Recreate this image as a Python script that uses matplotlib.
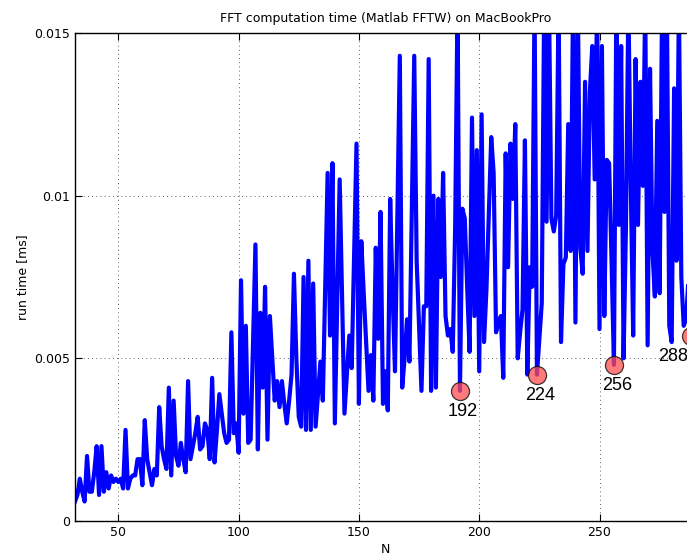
import matplotlib
matplotlib.use("Agg")
import matplotlib.pyplot as plt

# fft sizes and measured run times
n_start = 32
run_time = [
    0.0006, 0.0008, 0.0013, 0.0009, 0.0006, 0.0020, 0.0009, 0.0009, 0.0015, 0.0023,  # 32-41
    0.0008, 0.0023, 0.0009, 0.0015, 0.0010, 0.0014, 0.0012, 0.0013, 0.0012, 0.0013,  # 42-51
    0.0010, 0.0028, 0.0010, 0.0013, 0.0014, 0.0014, 0.0019, 0.0019, 0.0011, 0.0031,  # 52-61
    0.0019, 0.0015, 0.0011, 0.0016, 0.0014, 0.0035, 0.0023, 0.0019, 0.0016, 0.0041,  # 62-71
    0.0014, 0.0037, 0.0020, 0.0017, 0.0024, 0.0019, 0.0015, 0.0043, 0.0019, 0.0023,  # 72-81
    0.0027, 0.0032, 0.0022, 0.0023, 0.0030, 0.0028, 0.0019, 0.0044, 0.0018, 0.0028,  # 82-91
    0.0039, 0.0033, 0.0027, 0.0024, 0.0025, 0.0058, 0.0027, 0.0030, 0.0021, 0.0074,  # 92-101
    0.0033, 0.0060, 0.0024, 0.0025, 0.0055, 0.0085, 0.0022, 0.0064, 0.0041, 0.0072,  # 102-111
    0.0025, 0.0063, 0.0050, 0.0037, 0.0043, 0.0035, 0.0043, 0.0036, 0.0030, 0.0037,  # 112-121
    0.0045, 0.0076, 0.0050, 0.0032, 0.0029, 0.0075, 0.0028, 0.0080, 0.0028, 0.0073,  # 122-131
    0.0029, 0.0039, 0.0049, 0.0037, 0.0072, 0.0107, 0.0057, 0.0110, 0.0030, 0.0068,  # 132-141
    0.0105, 0.0069, 0.0033, 0.0045, 0.0057, 0.0047, 0.0082, 0.0116, 0.0036, 0.0086,  # 142-151
    0.0070, 0.0055, 0.0040, 0.0051, 0.0037, 0.0084, 0.0056, 0.0095, 0.0036, 0.0046,  # 152-161
    0.0034, 0.0099, 0.0070, 0.0046, 0.0095, 0.0143, 0.0041, 0.0050, 0.0062, 0.0049,  # 162-171
    0.0095, 0.0143, 0.0080, 0.0060, 0.0040, 0.0066, 0.0066, 0.0142, 0.0040, 0.0100,  # 172-181
    0.0041, 0.0099, 0.0075, 0.0107, 0.0063, 0.0057, 0.0059, 0.0052, 0.0090, 0.0160,  # 182-191
    0.0040, 0.0096, 0.0093, 0.0072, 0.0052, 0.0124, 0.0063, 0.0114, 0.0046, 0.0125,  # 192-201
    0.0055, 0.0071, 0.0095, 0.0118, 0.0107, 0.0058, 0.0061, 0.0063, 0.0044, 0.0113,  # 202-211
    0.0078, 0.0116, 0.0099, 0.0122, 0.0050, 0.0058, 0.0065, 0.0117, 0.0045, 0.0078,  # 212-221
    0.0072, 0.0160, 0.0045, 0.0056, 0.0067, 0.0160, 0.0092, 0.0160, 0.0093, 0.0089,  # 222-231
    0.0094, 0.0160, 0.0055, 0.0079, 0.0081, 0.0122, 0.0083, 0.0160, 0.0061, 0.0160,  # 232-241
    0.0084, 0.0076, 0.0135, 0.0083, 0.0132, 0.0146, 0.0105, 0.0160, 0.0059, 0.0146,  # 242-251
    0.0063, 0.0111, 0.0110, 0.0080, 0.0048, 0.0160, 0.0091, 0.0146, 0.0050, 0.0091,  # 252-261
    0.0160, 0.0103, 0.0057, 0.0142, 0.0091, 0.0135, 0.0103, 0.0160, 0.0054, 0.0139,  # 262-271
    0.0083, 0.0069, 0.0123, 0.0070, 0.0160, 0.0095, 0.0160, 0.0060, 0.0055, 0.0133,  # 272-281
    0.0080, 0.0160, 0.0075, 0.0060, 0.0062, 0.0075, 0.0057, 0.0090, 0.0100,          # 282-290
]
N = list(range(n_start, n_start + len(run_time)))

# highlighted sizes (multiples of 32)
marked_n = [192, 224, 256, 288]
marked_t = [run_time[n - n_start] for n in marked_n]

fig = plt.figure(figsize=(6.87, 5.56), dpi=100)
ax = fig.add_axes([75 / 687, 35 / 556, (290 - 32) * 2.406 / 687, 488 / 556])

ax.plot(N, run_time, color=(0, 0, 1), linewidth=3, zorder=2)
ax.plot(marked_n, marked_t, 'o', markersize=13, markerfacecolor=(1, 0.3, 0.3),
        markeredgecolor='k', markeredgewidth=0.9, alpha=0.75, zorder=3, clip_on=False)
for n, t in zip(marked_n, marked_t):
    dx = 2 if n < 288 else -13  # last label sits at the cropped right edge
    ax.annotate(str(n), (n, t), xytext=(dx, -9), textcoords='offset points',
                ha='center', va='top', fontsize=13, family='Liberation Sans',
                annotation_clip=False)

ax.set_xlim(32, 290)
ax.set_ylim(0, 0.015)
ax.set_xticks([50, 100, 150, 200, 250])
ax.set_yticks([0, 0.005, 0.01, 0.015])
ax.set_yticklabels(['0', '0.005', '0.01', '0.015'])
ax.tick_params(direction='in', length=5, width=0.8, top=True, right=True, labelsize=9)
ax.grid(True, color='0.2', linestyle=(0, (1, 4)), linewidth=0.6)
for s in ax.spines.values():
    s.set_linewidth(1.0)

ax.set_title('FFT computation time (Matlab FFTW) on MacBookPro', fontsize=9, pad=8)
ax.set_xlabel('N', fontsize=9, labelpad=3)
ax.set_ylabel('run time [ms]', fontsize=9, labelpad=4)

fig.savefig('out.png', dpi=100)
